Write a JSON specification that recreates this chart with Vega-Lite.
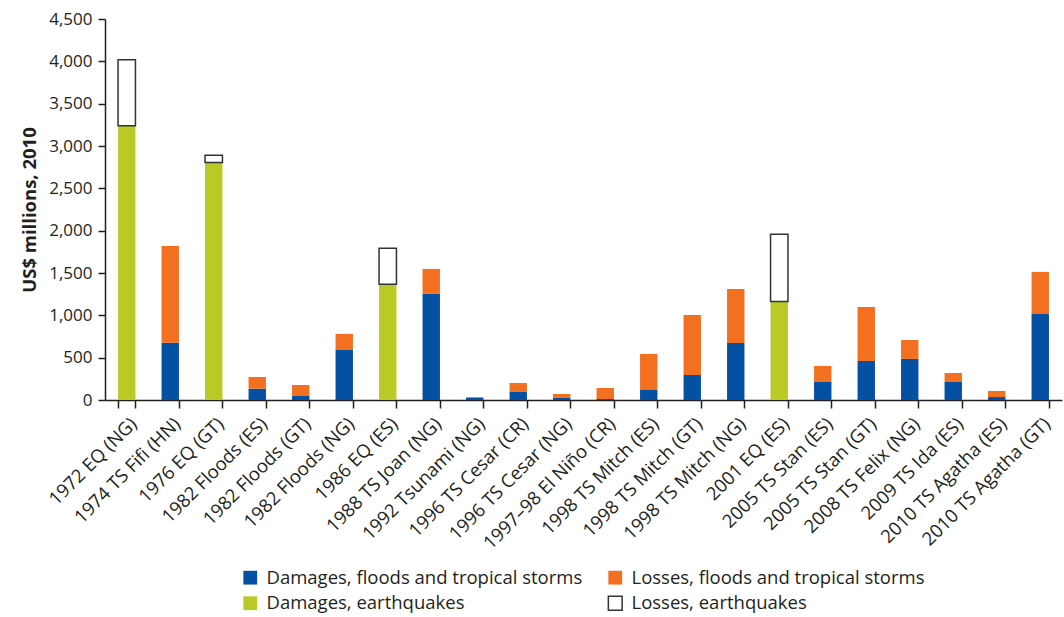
{
  "$schema": "https://vega.github.io/schema/vega-lite/v6.json",
  "width": 957,
  "height": 381,
  "autosize": {"type": "none"},
  "padding": {"left": 105, "top": 19, "right": 2, "bottom": 217},
  "background": "white",
  "config": {
    "font": "Open Sans",
    "view": {"stroke": null},
    "axis": {"domainColor": "#231f20", "tickColor": "#231f20", "labelColor": "#231f20", "titleColor": "#231f20", "grid": false}
  },
  "data": {
    "values": [
      {"event": "1972 EQ (NG)", "type": "Damages, earthquakes", "k": 1, "value": 3240},
      {"event": "1972 EQ (NG)", "type": "Losses, earthquakes", "k": 2, "value": 780},
      {"event": "1974 TS Fifi (HN)", "type": "Damages, floods and tropical storms", "k": 1, "value": 677},
      {"event": "1974 TS Fifi (HN)", "type": "Losses, floods and tropical storms", "k": 2, "value": 1143},
      {"event": "1976 EQ (GT)", "type": "Damages, earthquakes", "k": 1, "value": 2805},
      {"event": "1976 EQ (GT)", "type": "Losses, earthquakes", "k": 2, "value": 87},
      {"event": "1982 Floods (ES)", "type": "Damages, floods and tropical storms", "k": 1, "value": 134},
      {"event": "1982 Floods (ES)", "type": "Losses, floods and tropical storms", "k": 2, "value": 138},
      {"event": "1982 Floods (GT)", "type": "Damages, floods and tropical storms", "k": 1, "value": 47},
      {"event": "1982 Floods (GT)", "type": "Losses, floods and tropical storms", "k": 2, "value": 130},
      {"event": "1982 Floods (NG)", "type": "Damages, floods and tropical storms", "k": 1, "value": 591},
      {"event": "1982 Floods (NG)", "type": "Losses, floods and tropical storms", "k": 2, "value": 189},
      {"event": "1986 EQ (ES)", "type": "Damages, earthquakes", "k": 1, "value": 1367},
      {"event": "1986 EQ (ES)", "type": "Losses, earthquakes", "k": 2, "value": 426},
      {"event": "1988 TS Joan (NG)", "type": "Damages, floods and tropical storms", "k": 1, "value": 1253},
      {"event": "1988 TS Joan (NG)", "type": "Losses, floods and tropical storms", "k": 2, "value": 295},
      {"event": "1992 Tsunami (NG)", "type": "Damages, floods and tropical storms", "k": 1, "value": 25},
      {"event": "1992 Tsunami (NG)", "type": "Losses, floods and tropical storms", "k": 2, "value": 10},
      {"event": "1996 TS Cesar (CR)", "type": "Damages, floods and tropical storms", "k": 1, "value": 95},
      {"event": "1996 TS Cesar (CR)", "type": "Losses, floods and tropical storms", "k": 2, "value": 106},
      {"event": "1996 TS Cesar (NG)", "type": "Damages, floods and tropical storms", "k": 1, "value": 24},
      {"event": "1996 TS Cesar (NG)", "type": "Losses, floods and tropical storms", "k": 2, "value": 47},
      {"event": "1997–98 El Niño (CR)", "type": "Damages, floods and tropical storms", "k": 1, "value": 12},
      {"event": "1997–98 El Niño (CR)", "type": "Losses, floods and tropical storms", "k": 2, "value": 130},
      {"event": "1998 TS Mitch (ES)", "type": "Damages, floods and tropical storms", "k": 1, "value": 118},
      {"event": "1998 TS Mitch (ES)", "type": "Losses, floods and tropical storms", "k": 2, "value": 426},
      {"event": "1998 TS Mitch (GT)", "type": "Damages, floods and tropical storms", "k": 1, "value": 295},
      {"event": "1998 TS Mitch (GT)", "type": "Losses, floods and tropical storms", "k": 2, "value": 710},
      {"event": "1998 TS Mitch (NG)", "type": "Damages, floods and tropical storms", "k": 1, "value": 674},
      {"event": "1998 TS Mitch (NG)", "type": "Losses, floods and tropical storms", "k": 2, "value": 638},
      {"event": "2001 EQ (ES)", "type": "Damages, earthquakes", "k": 1, "value": 1162},
      {"event": "2001 EQ (ES)", "type": "Losses, earthquakes", "k": 2, "value": 796},
      {"event": "2005 TS Stan (ES)", "type": "Damages, floods and tropical storms", "k": 1, "value": 213},
      {"event": "2005 TS Stan (ES)", "type": "Losses, floods and tropical storms", "k": 2, "value": 189},
      {"event": "2005 TS Stan (GT)", "type": "Damages, floods and tropical storms", "k": 1, "value": 461},
      {"event": "2005 TS Stan (GT)", "type": "Losses, floods and tropical storms", "k": 2, "value": 638},
      {"event": "2008 TS Felix (NG)", "type": "Damages, floods and tropical storms", "k": 1, "value": 485},
      {"event": "2008 TS Felix (NG)", "type": "Losses, floods and tropical storms", "k": 2, "value": 224},
      {"event": "2009 TS Ida (ES)", "type": "Damages, floods and tropical storms", "k": 1, "value": 213},
      {"event": "2009 TS Ida (ES)", "type": "Losses, floods and tropical storms", "k": 2, "value": 106},
      {"event": "2010 TS Agatha (ES)", "type": "Damages, floods and tropical storms", "k": 1, "value": 35},
      {"event": "2010 TS Agatha (ES)", "type": "Losses, floods and tropical storms", "k": 2, "value": 71},
      {"event": "2010 TS Agatha (GT)", "type": "Damages, floods and tropical storms", "k": 1, "value": 1016},
      {"event": "2010 TS Agatha (GT)", "type": "Losses, floods and tropical storms", "k": 2, "value": 497}
    ]
  },
  "mark": {"type": "bar", "strokeWidth": 1.5},
  "encoding": {
    "x": {
      "field": "event", "type": "nominal", "sort": null,
      "scale": {"paddingInner": 0.6, "paddingOuter": 0.3},
      "axis": {"title": null, "labelAngle": -45, "labelFontSize": 18.5, "labelPadding": 6, "labelLimit": 300, "tickBand": "extent", "tickSize": 8, "tickWidth": 1.5, "domainWidth": 1.5}
    },
    "y": {
      "field": "value", "type": "quantitative", "stack": "zero",
      "scale": {"domain": [0, 4500], "nice": false},
      "axis": {"title": "US$ millions, 2010", "titleFontSize": 18.5, "titleFontWeight": "bold", "titlePadding": 9, "labelFontSize": 17, "values": [0, 500, 1000, 1500, 2000, 2500, 3000, 3500, 4000, 4500], "format": ",.0f", "tickSize": 7, "tickWidth": 1.5, "domainWidth": 1.5, "labelPadding": 6}
    },
    "order": {"field": "k", "type": "quantitative"},
    "color": {
      "field": "type", "type": "nominal",
      "scale": {
        "domain": ["Damages, floods and tropical storms", "Losses, floods and tropical storms", "Damages, earthquakes", "Losses, earthquakes"],
        "range": ["#0450a3", "#f37021", "#b9c925", "#ffffff"]
      },
      "legend": {"title": null, "orient": "none", "legendX": 136, "legendY": 549, "columns": 2, "columnPadding": 22, "rowPadding": 5, "labelFontSize": 18.5, "labelLimit": 500, "labelColor": "#231f20", "symbolType": "square", "symbolSize": 190, "labelOffset": 7, "direction": "horizontal"}
    },
    "stroke": {
      "field": "type", "type": "nominal",
      "scale": {
        "domain": ["Damages, floods and tropical storms", "Losses, floods and tropical storms", "Damages, earthquakes", "Losses, earthquakes"],
        "range": ["transparent", "transparent", "transparent", "#333333"]
      },
      "legend": {"title": null, "orient": "none", "legendX": 136, "legendY": 549, "columns": 2, "columnPadding": 22, "rowPadding": 5, "labelFontSize": 18.5, "labelLimit": 500, "labelColor": "#231f20", "symbolType": "square", "symbolSize": 190, "labelOffset": 7, "direction": "horizontal"}
    }
  }
}
